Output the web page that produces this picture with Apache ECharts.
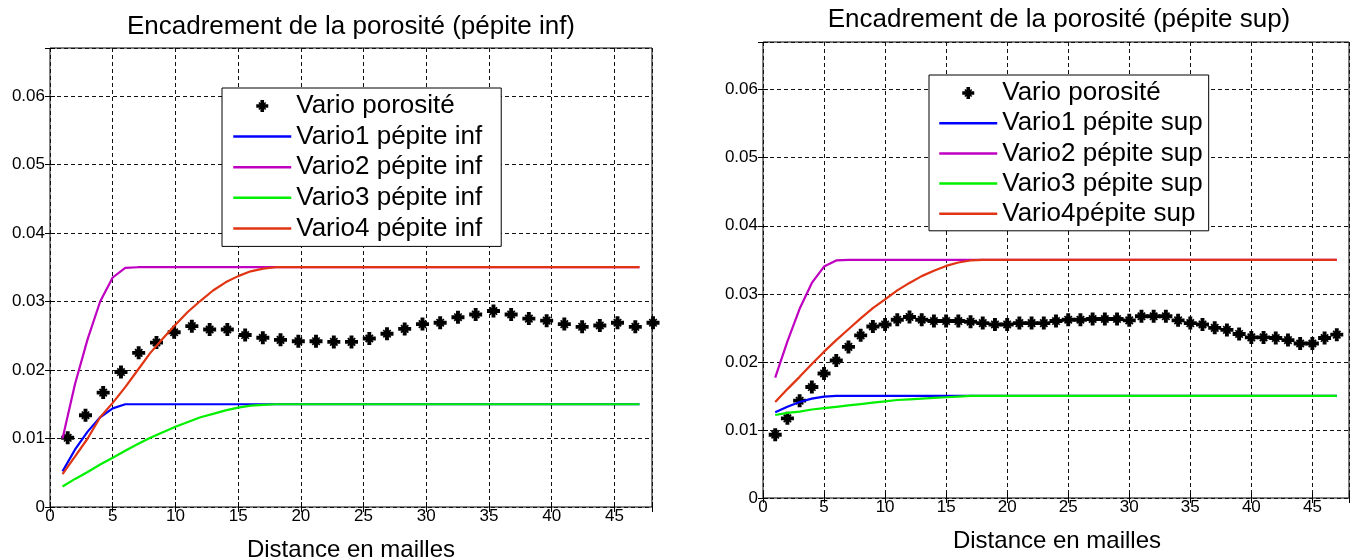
<!DOCTYPE html>
<html><head><meta charset="utf-8">
<script src="https://cdn.jsdelivr.net/npm/echarts@6/dist/echarts.min.js"></script>
<style>html,body{margin:0;padding:0;background:#fff}#c{width:1352px;height:558px}</style>
</head><body><div id="c"></div>
<script>
const FONT = "'Liberation Sans', Arial, Helvetica, sans-serif";
const titleLeft = 'Encadrement de la porosité (pépite inf)';
const titleRight = 'Encadrement de la porosité (pépite sup)';
const xAxisName = 'Distance en mailles';
const namesLeft = ['Vario porosité', 'Vario1 pépite inf', 'Vario2 pépite inf', 'Vario3 pépite inf', 'Vario4 pépite inf'];
const namesRight = ['Vario porosité', 'Vario1 pépite sup', 'Vario2 pépite sup', 'Vario3 pépite sup', 'Vario4pépite sup'];
const lineColors = ['#0000ff', '#c000c0', '#00f000', '#e03412'];

// model lags (both panels)
const lagModel = [1,2,3,4,5,6,7,8,9,10,11,12,13,14,15,16,17,18,19,20,21,22,23,24,25,26,27,28,29,30,31,32,33,34,35,36,37,38,39,40,41,42,43,44,45,46,47];

// left panel: experimental variogram
const lagInf = [1.41,2.83,4.24,5.66,7.07,8.49,9.90,11.31,12.73,14.14,15.56,16.97,18.38,19.80,21.21,22.63,24.04,25.46,26.87,28.28,29.70,31.11,32.53,33.94,35.36,36.77,38.18,39.60,41.01,42.43,43.84,45.25,46.67,48.08];
const varioInf = [0.0101,0.0134,0.0167,0.0197,0.0225,0.0240,0.0255,0.0264,0.0259,0.0259,0.0251,0.0247,0.0244,0.0242,0.0242,0.0241,0.0241,0.0246,0.0253,0.0260,0.0267,0.0269,0.0277,0.0281,0.0286,0.0281,0.0275,0.0272,0.0267,0.0263,0.0265,0.0269,0.0263,0.0269];
const vario1Inf = [0.0052,0.0084,0.0110,0.0131,0.0144,0.0150,
  0.015,0.015,0.015,0.015,0.015,0.015,0.015,0.015,0.015,0.015,
  0.015,0.015,0.015,0.015,0.015,0.015,0.015,0.015,0.015,0.015,
  0.015,0.015,0.015,0.015,0.015,0.015,0.015,0.015,0.015,0.015,
  0.015,0.015,0.015,0.015,0.015,0.015,0.015,0.015,0.015,0.015,0.015];
const vario2Inf = [0.0100,0.0180,0.0245,0.0300,0.0335,0.0349,
  0.035,0.035,0.035,0.035,0.035,0.035,0.035,0.035,0.035,0.035,
  0.035,0.035,0.035,0.035,0.035,0.035,0.035,0.035,0.035,0.035,
  0.035,0.035,0.035,0.035,0.035,0.035,0.035,0.035,0.035,0.035,
  0.035,0.035,0.035,0.035,0.035,0.035,0.035,0.035,0.035,0.035,0.035];
const vario3Inf = [0.0030,0.0041,0.0051,0.0062,0.0072,0.0082,0.0092,0.0101,0.0109,0.0117,0.0124,0.0131,0.0136,0.0141,0.0145,0.0148,0.0149,0.0150,
  0.015,0.015,0.015,0.015,0.015,0.015,0.015,0.015,0.015,0.015,
  0.015,0.015,0.015,0.015,0.015,0.015,0.015,0.015,0.015,0.015,
  0.015,0.015,0.015,0.015,0.015,0.015,0.015,0.015,0.015];
const vario4Inf = [0.0048,0.0074,0.0100,0.0131,0.0152,0.0175,0.0200,0.0225,0.0246,0.0266,0.0285,0.0301,0.0316,0.0328,0.0337,0.0344,0.0348,0.0350,
  0.035,0.035,0.035,0.035,0.035,0.035,0.035,0.035,0.035,0.035,
  0.035,0.035,0.035,0.035,0.035,0.035,0.035,0.035,0.035,0.035,
  0.035,0.035,0.035,0.035,0.035,0.035,0.035,0.035,0.035];

// right panel
const lagSup = [1,2,3,4,5,6,7,8,9,10,11,12,13,14,15,16,17,18,19,20,21,22,23,24,25,26,27,28,29,30,31,32,33,34,35,36,37,38,39,40,41,42,43,44,45,46,47];
const varioSup = [0.0093,0.0117,0.0143,0.0163,0.0183,0.0202,0.0222,0.0239,0.0252,0.0255,0.0262,0.0266,0.0262,0.0260,0.0260,0.0260,0.0259,0.0257,0.0255,0.0255,0.0257,0.0257,0.0257,0.0260,0.0262,0.0262,0.0263,0.0263,0.0263,0.0261,0.0267,0.0267,0.0267,0.0261,0.0257,0.0255,0.0250,0.0247,0.0241,0.0236,0.0236,0.0235,0.0232,0.0227,0.0227,0.0235,0.0240];
const vario1Sup = [0.0126,0.0134,0.0141,0.0146,0.0149,0.0150,
  0.015,0.015,0.015,0.015,0.015,0.015,0.015,0.015,0.015,0.015,
  0.015,0.015,0.015,0.015,0.015,0.015,0.015,0.015,0.015,0.015,
  0.015,0.015,0.015,0.015,0.015,0.015,0.015,0.015,0.015,0.015,
  0.015,0.015,0.015,0.015,0.015,0.015,0.015,0.015,0.015,0.015,0.015];
const vario2Sup = [0.0177,0.0230,0.0278,0.0316,0.0340,0.0349,
  0.035,0.035,0.035,0.035,0.035,0.035,0.035,0.035,0.035,0.035,
  0.035,0.035,0.035,0.035,0.035,0.035,0.035,0.035,0.035,0.035,
  0.035,0.035,0.035,0.035,0.035,0.035,0.035,0.035,0.035,0.035,
  0.035,0.035,0.035,0.035,0.035,0.035,0.035,0.035,0.035,0.035,0.035];
const vario3Sup = [0.0122,0.0125,0.0127,0.0130,0.0132,0.0134,0.0136,0.0138,0.0140,0.0142,0.0144,0.0145,0.0146,0.0147,0.0148,0.0149,0.0150,0.0150,
  0.015,0.015,0.015,0.015,0.015,0.015,0.015,0.015,0.015,0.015,
  0.015,0.015,0.015,0.015,0.015,0.015,0.015,0.015,0.015,0.015,
  0.015,0.015,0.015,0.015,0.015,0.015,0.015,0.015,0.015];
const vario4Sup = [0.0141,0.0160,0.0178,0.0197,0.0215,0.0232,0.0248,0.0264,0.0279,0.0292,0.0305,0.0316,0.0326,0.0334,0.0341,0.0346,0.0349,0.0350,
  0.035,0.035,0.035,0.035,0.035,0.035,0.035,0.035,0.035,0.035,
  0.035,0.035,0.035,0.035,0.035,0.035,0.035,0.035,0.035,0.035,
  0.035,0.035,0.035,0.035,0.035,0.035,0.035,0.035,0.035];

const xTicksMax = 48, yMax = 0.067;

// bold asterisk marker (thick plus + short diagonals)
const STAR = 'path://M7 0L13 0L13 20L7 20ZM0 7L20 7L20 13L0 13ZM5.2 3.4L16.6 14.8L14.8 16.6L3.4 5.2ZM14.8 3.4L16.6 5.2L5.2 16.6L3.4 14.8Z';

const zip = (xs, ys) => ys.map((y, i) => [xs[i], y]);

function xAxisMain(gi) {
  return {
    gridIndex: gi, type: 'value', min: 0, max: xTicksMax, interval: 5,
    axisLine: { show: false },
    axisTick: { show: true, inside: true, length: 5, lineStyle: { color: '#000' } },
    axisLabel: { margin: 1, color: '#000', fontSize: 17, fontFamily: FONT,
      formatter: v => (Math.abs(v % 5) < 1e-9 ? String(v) : '') },
    splitLine: { show: true, lineStyle: { color: '#111', width: 1, type: [4, 3] } }
  };
}
function yAxisMain(gi) {
  return {
    gridIndex: gi, type: 'value', min: 0, max: yMax, interval: 0.01,
    axisLine: { show: false },
    axisTick: { show: true, inside: true, length: 5, lineStyle: { color: '#000' } },
    axisLabel: { margin: 5, color: '#000', fontSize: 17, fontFamily: FONT,
      formatter: v => { const r = Math.round(v * 100); if (Math.abs(v * 100 - r) > 1e-6) return ''; return r === 0 ? '0' : (r / 100).toFixed(2); } },
    splitLine: { show: true, lineStyle: { color: '#111', width: 1, type: [4, 3] } }
  };
}
function xAxisTop(gi) {
  return { gridIndex: gi, type: 'value', position: 'top', min: 0, max: xTicksMax, interval: 5,
    axisLine: { show: false }, axisLabel: { show: false }, splitLine: { show: false },
    axisTick: { show: true, inside: true, length: 5, lineStyle: { color: '#000' } } };
}
function yAxisRight(gi) {
  return { gridIndex: gi, type: 'value', position: 'right', min: 0, max: yMax, interval: 0.01,
    axisLine: { show: false }, axisLabel: { show: false }, splitLine: { show: false },
    axisTick: { show: true, inside: true, length: 5, lineStyle: { color: '#000' } } };
}

function panelSeries(names, lagExp, exp, models, xi, yi) {
  const out = [{
    name: names[0], type: 'scatter', xAxisIndex: xi, yAxisIndex: yi,
    data: zip(lagExp, exp), symbol: STAR, symbolSize: 13, symbolKeepAspect: true,
    itemStyle: { color: '#000', opacity: 1 }, clip: false, z: 3
  }];
  models.forEach((m, k) => out.push({
    name: names[k + 1], type: 'line', xAxisIndex: xi, yAxisIndex: yi,
    data: zip(lagModel, m), symbol: 'none', showSymbol: false,
    lineStyle: { color: lineColors[k], width: 2.2 }, itemStyle: { color: lineColors[k] }, z: 4
  }));
  return out;
}

function legendFor(names, left, top, gap, pad) {
  return {
    orient: 'vertical', left: left, top: top,
    data: names.map((n, i) => i === 0 ? { name: n, itemStyle: { color: '#000', opacity: 1 } } :
      { name: n, itemStyle: { opacity: 0 }, lineStyle: { color: lineColors[i - 1], width: 2.5, opacity: 1 } }),
    itemWidth: 58, itemHeight: 12, itemGap: gap, padding: pad,
    borderColor: '#000', borderWidth: 1, borderRadius: 0, backgroundColor: '#fff',
    selectedMode: false, z: 10,
    textStyle: { fontFamily: FONT, fontSize: 26, color: '#000', lineHeight: 20 }
  };
}

const chart = echarts.init(document.getElementById('c'), null, { renderer: 'canvas' });
chart.setOption({
  animation: false,
  backgroundColor: '#fff',
  grid: [
    { left: 50, top: 48, width: 602, height: 459, show: true, borderColor: '#000', borderWidth: 1, backgroundColor: 'transparent' },
    { left: 763, top: 42, width: 594, height: 456, show: true, borderColor: '#000', borderWidth: 1, backgroundColor: 'transparent' }
  ],
  xAxis: [xAxisMain(0), xAxisMain(1), xAxisTop(0), xAxisTop(1)],
  yAxis: [yAxisMain(0), yAxisMain(1), yAxisRight(0), yAxisRight(1)],
  legend: [
    legendFor(namesLeft, 222, 88, 4.6, [5, 19, 5, 10]),
    legendFor(namesRight, 929, 75, 4.2, [5, 6, 4, 9])
  ],
  graphic: [
    { type: 'text', x: 351, y: 27, z: 20, style: { text: titleLeft, font: '26px ' + FONT, fill: '#000', align: 'center', verticalAlign: 'middle' } },
    { type: 'text', x: 1059, y: 20, z: 20, style: { text: titleRight, font: '26px ' + FONT, fill: '#000', align: 'center', verticalAlign: 'middle' } },
    { type: 'text', x: 351, y: 550, z: 20, style: { text: xAxisName, font: '24px ' + FONT, fill: '#000', align: 'center', verticalAlign: 'middle' } },
    { type: 'text', x: 1057, y: 541, z: 20, style: { text: xAxisName, font: '24px ' + FONT, fill: '#000', align: 'center', verticalAlign: 'middle' } }
  ],
  series: [].concat(
    panelSeries(namesLeft, lagInf, varioInf, [vario1Inf, vario2Inf, vario3Inf, vario4Inf], 0, 0),
    panelSeries(namesRight, lagSup, varioSup, [vario1Sup, vario2Sup, vario3Sup, vario4Sup], 1, 1)
  )
});
</script></body></html>
